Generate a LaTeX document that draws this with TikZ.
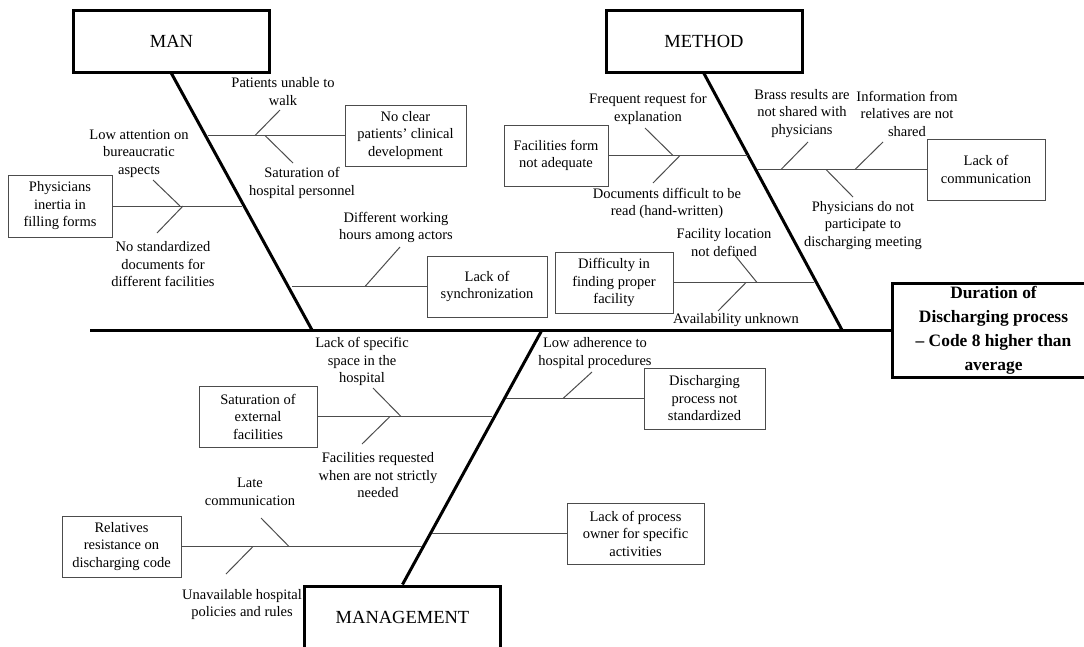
\documentclass[tikz,border=0pt]{standalone}
\usepackage{fontspec}
\setmainfont{Liberation Serif}
\begin{document}
\begin{tikzpicture}[x=1pt,y=-1pt,
  thinl/.style={draw=black!70, line width=1pt},
  thickl/.style={draw=black, line width=3pt},
  lbl/.style={align=center, inner sep=0pt, font=\fontsize{14.5}{17.5}\selectfont},
  sbox/.style={lbl, draw=black!70, line width=1pt},
  cbox/.style={draw=black, line width=3pt, inner sep=0pt, minimum width=196pt, minimum height=62pt, font=\fontsize{18.5}{22}\selectfont},
  effbox/.style={draw=black, line width=3pt, inner sep=0pt, align=center, font=\bfseries\fontsize{17.4}{24}\selectfont}
]
\useasboundingbox (0,0) rectangle (1084,646);

% category boxes
\node[cbox] (man) at (171.5,41) {MAN};
\node[cbox] (method) at (704,41) {METHOD};
\node[cbox] (mgmt) at (402.5,617) {MANAGEMENT};
\node[effbox, minimum width=203pt, minimum height=94pt] (effect) at (993.5,330) {Duration of\\Discharging process\\– Code 8 higher than\\average};

% main line and spines
\coordinate (mainstart) at (90,330);
\coordinate (manend) at (312,330);
\coordinate (methend) at (842,330);
\coordinate (mgmtend) at (542,330);
\draw[thickl] (mainstart) -- (effect.west);
\draw[thickl] (man.south) -- (manend);
\draw[thickl] (method.south) -- (methend);
\draw[thickl] (mgmt.north) -- (mgmtend);

% cause boxes
\node[sbox, minimum width=121pt, minimum height=61pt] (noclear) at (405.5,135.5) {No clear\\patients’ clinical\\development};
\node[sbox, minimum width=104pt, minimum height=62pt] (phys) at (60,206) {Physicians\\inertia in\\filling forms};
\node[sbox, minimum width=120pt, minimum height=61pt] (sync) at (487,286.5) {Lack of\\synchronization};
\node[sbox, minimum width=104pt, minimum height=61pt] (facform) at (556,155.5) {Facilities form\\not adequate};
\node[sbox, minimum width=118pt, minimum height=61pt] (comm) at (986,169.5) {Lack of\\communication};
\node[sbox, minimum width=118pt, minimum height=61pt] (diff) at (614,282.5) {Difficulty in\\finding proper\\facility};
\node[sbox, minimum width=118pt, minimum height=61pt] (satext) at (258,416.5) {Saturation of\\external\\facilities};
\node[sbox, minimum width=119pt, minimum height=61pt] (relat) at (121.5,546.5) {Relatives\\resistance on\\discharging code};
\node[sbox, minimum width=121pt, minimum height=61pt] (dproc) at (704.5,398.5) {Discharging\\process not\\standardized};
\node[sbox, minimum width=137pt, minimum height=61pt] (owner) at (635.5,533.5) {Lack of process\\owner for specific\\activities};

% branch ends on spines
\coordinate (e1) at (208,135.5);
\coordinate (e2) at (242,206);
\coordinate (e3) at (292,286.5);
\coordinate (e4) at (748,155.5);
\coordinate (e5) at (757,169.5);
\coordinate (e6) at (814,282.5);
\coordinate (e7) at (492,416.5);
\coordinate (e8) at (422,546.5);
\coordinate (e9) at (506,398.5);
\coordinate (e10) at (432,533.5);
\draw[thinl] (noclear.west) -- (e1);
\draw[thinl] (phys.east) -- (e2);
\draw[thinl] (sync.west) -- (e3);
\draw[thinl] (facform.east) -- (e4);
\draw[thinl] (comm.west) -- (e5);
\draw[thinl] (diff.east) -- (e6);
\draw[thinl] (satext.east) -- (e7);
\draw[thinl] (relat.east) -- (e8);
\draw[thinl] (dproc.west) -- (e9);
\draw[thinl] (owner.west) -- (e10);

% sub-cause labels
\node[lbl] (l1) at (283,91.5) {Patients unable to\\walk};
\node[lbl] (l2) at (302,183) {Saturation of\\hospital personnel};
\node[lbl] (l3) at (139,153.5) {Low attention on\\bureaucratic\\aspects};
\node[lbl] (l4) at (163,264.5) {No standardized\\documents for\\different facilities};
\node[lbl] (l5) at (396,227.5) {Different working\\hours among actors};
\node[lbl] (l6) at (648,109) {Frequent request for\\explanation};
\node[lbl] (l7) at (667,203.5) {Documents difficult to be\\read (hand-written)};
\node[lbl] (l8) at (802,113.5) {Brass results are\\not shared with\\physicians};
\node[lbl] (l9) at (907,113.5) {Information from\\relatives are not\\shared};
\node[lbl] (l10) at (863,225.5) {Physicians do not\\participate to\\discharging meeting};
\node[lbl] (l11) at (724,242.5) {Facility location\\not defined};
\node[lbl] (l12) at (736,320) {Availability unknown};
\node[lbl] (l13) at (362,361.5) {Lack of specific\\space in the\\hospital};
\node[lbl] (l14) at (378,475.5) {Facilities requested\\when are not strictly\\needed};
\node[lbl] (l15) at (250,492) {Late\\communication};
\node[lbl] (l16) at (242,604.5) {Unavailable hospital\\policies and rules};
\node[lbl] (l17) at (595,353) {Low adherence to\\hospital procedures};

% sub-cause bones
\coordinate (a1) at (280,110);   \coordinate (b1) at (255,135.5);
\coordinate (a2) at (293,163);   \coordinate (b2) at (265,135.5);
\coordinate (a3) at (153,180);   \coordinate (b3) at (180,206);
\coordinate (a4) at (157,233);   \coordinate (b4) at (183,206);
\coordinate (a5) at (400,247);   \coordinate (b5) at (365,286.5);
\coordinate (a6) at (645,128);   \coordinate (b6) at (673,155.5);
\coordinate (a7) at (653,183);   \coordinate (b7) at (680,155.5);
\coordinate (a8) at (808,142);   \coordinate (b8) at (781,169.5);
\coordinate (a9) at (883,142);   \coordinate (b9) at (855,169.5);
\coordinate (a10) at (853,197);  \coordinate (b10) at (826,169.5);
\coordinate (a11) at (733,253);  \coordinate (b11) at (757,282.5);
\coordinate (a12) at (718,311);  \coordinate (b12) at (746,282.5);
\coordinate (a13) at (373,388);  \coordinate (b13) at (401,416.5);
\coordinate (a14) at (362,444);  \coordinate (b14) at (390,416.5);
\coordinate (a15) at (261,518);  \coordinate (b15) at (289,546.5);
\coordinate (a16) at (226,574);  \coordinate (b16) at (253,546.5);
\coordinate (a17) at (592,372);  \coordinate (b17) at (563,398.5);
\foreach \i in {1,...,17} {\draw[thinl] (a\i) -- (b\i);}
\end{tikzpicture}
\end{document}
